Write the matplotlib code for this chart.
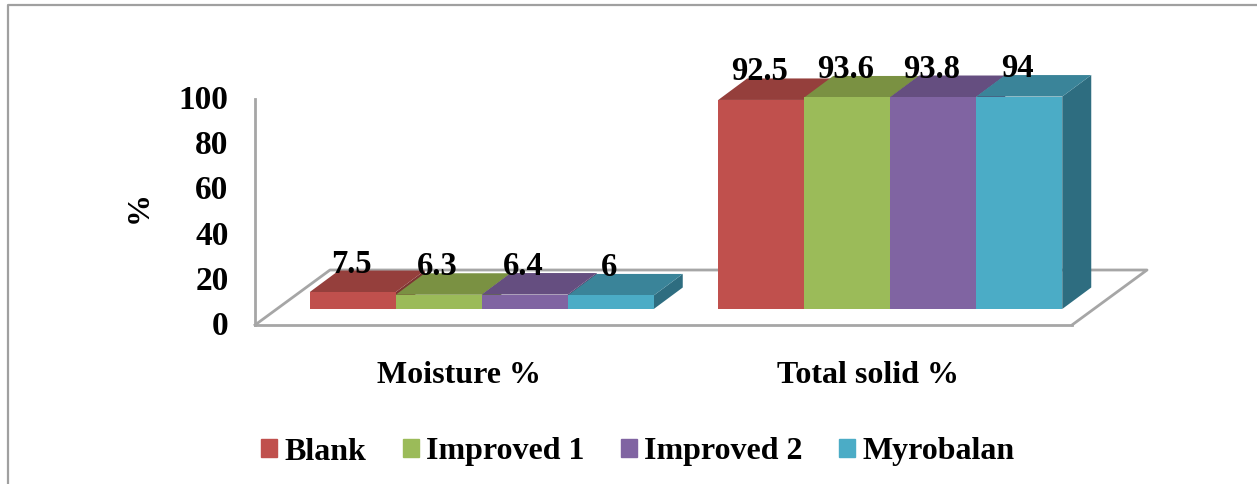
"""Moisture and total solid percentages, drawn as a pseudo-3D clustered bar chart."""

import matplotlib
matplotlib.use("Agg")
import matplotlib.pyplot as plt  # noqa: E402
from matplotlib.lines import Line2D  # noqa: E402
from matplotlib.patches import Patch  # noqa: E402
from matplotlib.transforms import ScaledTranslation  # noqa: E402

W, H = 1257, 484
GRAY = "#a6a6a6"

categories = ["Moisture %", "Total solid %"]
series = ["Blank", "Improved 1", "Improved 2", "Myrobalan"]
blank = [7.5, 92.5]
improved1 = [6.3, 93.6]
improved2 = [6.4, 93.8]
myrobalan = [6, 94]
labels = [["7.5", "92.5"], ["6.3", "93.6"], ["6.4", "93.8"], ["6", "94"]]
yticks = [0, 20, 40, 60, 80, 100]

front = ["#c0504d", "#9bbb59", "#8064a2", "#4bacc6"]
top = ["#953f3c", "#7a9142", "#654e80", "#3a8499"]
side = ["#7d3432", "#647836", "#53406b", "#2e6d80"]

plt.rcParams["font.family"] = ["Liberation Serif", "DejaVu Serif"]
plt.rcParams["font.weight"] = "bold"
FS = 23

fig = plt.figure(figsize=(W / 100, H / 100), dpi=100)
fig.patch.set_facecolor("white")

# outer chart frame, only left and top survive the crop
fig.add_artist(Line2D([8 / W, 8 / W, 1], [0, 1 - 5 / H, 1 - 5 / H], color="#a0a0a0", lw=1.6))

# axes box is the front edge of the floor plus the wall height
ax = fig.add_axes([255 / W, 1 - 325 / H, 817 / W, 226 / H])
ax.set_xlim(0, 2)
ax.set_ylim(0, 100)
ax.patch.set_alpha(0)
for s in ["top", "right"]:
    ax.spines[s].set_visible(False)
for s in ["left", "bottom"]:
    ax.spines[s].set_color(GRAY)
    ax.spines[s].set_linewidth(2)

ax.set_yticks(yticks)
ax.set_xticks([0.5, 1.5], categories)
ax.tick_params(length=0, labelsize=FS)
ax.tick_params(axis="y", pad=19, labelsize=24)
ax.tick_params(axis="x", pad=26)
# tick labels sit a touch above their gridline level
nudge = ScaledTranslation(0, 1.5 / 72, fig.dpi_scale_trans)
for lab in ax.get_yticklabels():
    lab.set_transform(lab.get_transform() + nudge)
ax.set_ylabel("%", fontsize=FS, fontweight="bold", labelpad=18, y=0.52)

# depth vectors, in data units
px_x = 2 / 817
px_y = 100 / 226
floor_dx, floor_dy = 75 * px_x, 55 * px_y
off_dx, off_dy = 22.5 * px_x, 16 * px_y
bar_dx, bar_dy = 29 * px_x, 21.5 * px_y
bar_w = 86 * px_x

ax.plot([0, floor_dx, 2 + floor_dx, 2], [0, floor_dy, floor_dy, 0],
        color=GRAY, lw=2, clip_on=False, zorder=1)

values = [blank, improved1, improved2, myrobalan]
for g in range(len(categories)):
    for i, vals in enumerate(values):
        v = vals[g]
        x0 = g + 0.5 + off_dx + (i - 2) * bar_w
        x1 = x0 + bar_w
        y1 = off_dy + v
        ax.fill([x1, x1 + bar_dx, x1 + bar_dx, x1],
                [off_dy, off_dy + bar_dy, y1 + bar_dy, y1],
                color=side[i], lw=0, clip_on=False, zorder=3)
        ax.fill([x0, x0 + bar_dx, x1 + bar_dx, x1],
                [y1, y1 + bar_dy, y1 + bar_dy, y1],
                color=top[i], lw=0, clip_on=False, zorder=3)
        ax.bar(x0, v, bar_w, bottom=off_dy, align="edge", color=front[i], clip_on=False, zorder=3)

for g in range(len(categories)):
    for i, vals in enumerate(values):
        xc = g + 0.5 + off_dx + (i - 1.5) * bar_w - 1.5 * px_x
        ax.text(xc, off_dy + vals[g] + 28 * px_y, labels[i][g], ha="center", va="center",
                fontsize=23.5, clip_on=False, zorder=5)

handles = [Patch(color=c, label=n) for c, n in zip(front, series)]
fig.legend(handles=handles, loc="center", bbox_to_anchor=(638 / W, 1 - 452 / H), ncol=4,
           frameon=False, fontsize=FS, handlelength=0.5, handleheight=0.5,
           handletextpad=0.22, columnspacing=1.15)

fig.savefig("out.png", dpi=100)
